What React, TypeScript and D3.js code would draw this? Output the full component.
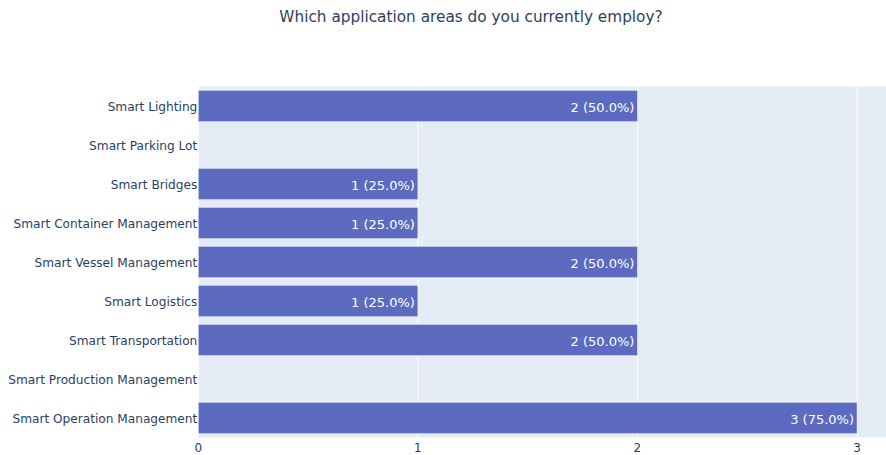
import React from "react";
import * as d3 from "d3";

const categories = [
  "Smart Lighting",
  "Smart Parking Lot",
  "Smart Bridges",
  "Smart Container Management",
  "Smart Vessel Management",
  "Smart Logistics",
  "Smart Transportation",
  "Smart Production Management",
  "Smart Operation Management",
];
const counts = [2, 0, 1, 1, 2, 1, 2, 0, 3];
const percents = [50, 0, 25, 25, 50, 25, 50, 0, 75];
const xTicks = [0, 1, 2, 3];
const title = "Which application areas do you currently employ?";

const W = 886;
const H = 455;
const M = { left: 198.3, right: 0, top: 86.5, bottom: 437.5 };
const FONT = "'DejaVu Sans', Verdana, sans-serif";
const TEXT = "#2a3f5f";
const BAR = "#5c6bc0";
const BG = "#e5ecf6";

export default function App() {
  const x = d3.scaleLinear().domain([0, 3.132]).range([M.left, W - M.right]);
  const y = d3
    .scaleBand<string>()
    .domain(categories)
    .range([M.top, M.bottom])
    .paddingInner(0.2)
    .paddingOuter(0.1);
  return (
    <svg
      width={W}
      height={H}
      style={{ position: "absolute", left: 0, top: 0, fontFamily: FONT }}
    >
      <rect x={0} y={0} width={W} height={H} fill="white" />
      <rect
        x={M.left}
        y={M.top}
        width={W - M.right - M.left}
        height={M.bottom - M.top}
        fill={BG}
      />
      {xTicks.map((t) => (
        <line
          key={"g" + t}
          x1={x(t)}
          x2={x(t)}
          y1={M.top}
          y2={M.bottom}
          stroke="white"
          strokeWidth={1}
        />
      ))}
      {categories.map((c, i) => (
        <g key={c}>
          {counts[i] > 0 && (
            <rect
              x={x(0)}
              y={y(c)!}
              width={x(counts[i]) - x(0)}
              height={y.bandwidth()}
              fill={BAR}
              stroke={BG}
              strokeWidth={0.5}
            />
          )}
          {counts[i] > 0 && (
            <text
              x={x(counts[i]) - 3}
              y={y(c)! + y.bandwidth() / 2 + 1}
              dy="0.35em"
              textAnchor="end"
              fill="white"
              fontSize={13}
            >
              {`${counts[i]} (${percents[i].toFixed(1)}%)`}
            </text>
          )}
          <text
            x={M.left - 1}
            y={y(c)! + y.bandwidth() / 2 + 1}
            dy="0.35em"
            textAnchor="end"
            fill={TEXT}
            fontSize={12.15}
          >
            {c}
          </text>
        </g>
      ))}
      {xTicks.map((t) => (
        <text
          key={"t" + t}
          x={x(t)}
          y={448}
          dy="0.35em"
          textAnchor="middle"
          fill={TEXT}
          fontSize={12}
        >
          {t}
        </text>
      ))}
      <text
        x={471}
        y={17}
        dy="0.35em"
        textAnchor="middle"
        fill={TEXT}
        fontSize={15.3}
      >
        {title}
      </text>
    </svg>
  );
}
